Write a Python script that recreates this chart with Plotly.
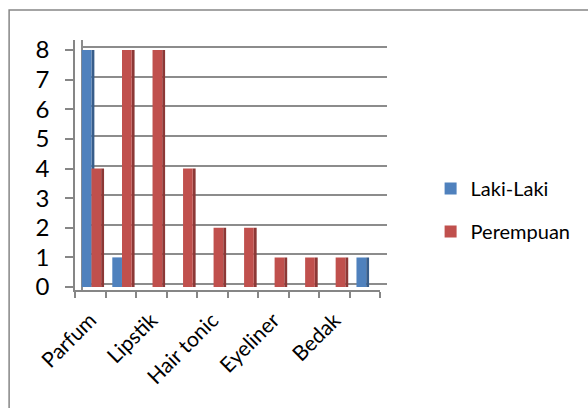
import plotly.graph_objects as go

# Data
positions = list(range(10))
laki_laki = [8, 1, 0, 0, 0, 0, 0, 0, 0, 1]
perempuan = [4, 8, 8, 4, 2, 2, 1, 1, 1, 0]
label_positions = [0, 2, 4, 6, 8]
labels = ["Parfum", "Lipstik", "Hair tonic", "Eyeliner", "Bedak"]
y_ticks = [0, 1, 2, 3, 4, 5, 6, 7, 8]

BLUE, BLUE_SIDE = "#4F81BD", "#385D8A"
RED, RED_SIDE = "#C0504D", "#8C3836"
FONT = "Lato"

fig = go.Figure()
# gridline carrier (back wall) on primary axes
fig.add_trace(go.Scatter(x=[], y=[], showlegend=False, hoverinfo="skip"))

bar_axes = dict(xaxis="x2", yaxis="y2")
fig.add_trace(go.Bar(x=positions, y=laki_laki, offset=0.04, width=0.095, **bar_axes,
                     marker=dict(color=BLUE_SIDE, line=dict(width=0)), showlegend=False, hoverinfo="skip"))
fig.add_trace(go.Bar(x=positions, y=laki_laki, offset=-0.278, width=0.317, name="Laki-Laki", **bar_axes,
                     legendgroup="a", marker=dict(color=BLUE, line=dict(width=0))))
fig.add_trace(go.Bar(x=positions, y=perempuan, offset=0.357, width=0.095, **bar_axes,
                     marker=dict(color=RED_SIDE, line=dict(width=0)), showlegend=False, hoverinfo="skip"))
fig.add_trace(go.Bar(x=positions, y=perempuan, offset=0.04, width=0.317, name="Perempuan", **bar_axes,
                     legendgroup="b", marker=dict(color=RED, line=dict(width=0))))

W, H = 588, 408
l, r, t, b = 75, 191, 40, 118
pw = W - l - r
ph = H - t - b
y0, y1 = -0.101, 8.34

fig.update_layout(
    width=W, height=H,
    margin=dict(l=l, r=r, t=t, b=b),
    paper_bgcolor="white", plot_bgcolor="rgba(0,0,0,0)",
    barmode="overlay",
    font=dict(family=FONT, color="#000000"),
    xaxis=dict(domain=[(83 - l) / pw, 1], range=[0, 1], visible=False, anchor="y"),
    yaxis=dict(range=[y0 - 0.1, y1 - 0.1], anchor="x", tickvals=y_ticks,
               showticklabels=False, ticks="", showgrid=True, gridcolor="#8C8C8C", gridwidth=2,
               zeroline=False, showline=True, linecolor="#8C8C8C", linewidth=1.5),
    xaxis2=dict(domain=[0, (390 - l) / pw], range=[-0.5, 9.5], anchor="y2", tickmode="array",
                tickvals=label_positions, ticktext=labels, ticklen=0, tickangle=-45,
                tickfont=dict(size=21), ticklabelstandoff=8, showgrid=False, zeroline=False,
                showline=True, linecolor="#868686", linewidth=1.5,
                minor=dict(tick0=-0.5, dtick=1, ticks="outside", ticklen=6,
                           tickcolor="#868686", tickwidth=1.5, showgrid=False)),
    yaxis2=dict(range=[y0, y1], overlaying="y", anchor="x2", tickmode="array", tickvals=y_ticks,
                ticks="outside", ticklen=8, tickcolor="#868686", tickwidth=1.5, showgrid=False,
                zeroline=False, showline=True, linecolor="#868686", linewidth=1.5,
                tickfont=dict(size=24), ticklabelstandoff=11),
    legend=dict(x=(442 - l) / pw, xanchor="left", y=(H - b - 210) / ph, yanchor="middle",
                font=dict(size=20), tracegroupgap=14, bgcolor="rgba(0,0,0,0)"),
    shapes=[dict(type="rect", xref="paper", yref="paper", x0=-(l - 7) / pw, x1=4,
                 y0=-1, y1=1 + (t - 10) / ph, line=dict(color="#868686", width=1.5),
                 fillcolor="rgba(0,0,0,0)", layer="below")],
)

fig.write_html("out.html")
